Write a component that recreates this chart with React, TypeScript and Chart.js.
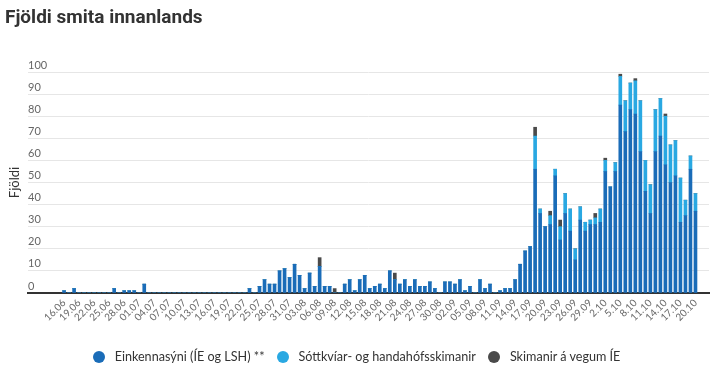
import React, { useEffect, useRef } from "react";
import { Chart, registerables } from "chart.js";

Chart.register(...registerables);

// Category labels: one per day, 16.06 – 20.10
const dates: string[] = [
  "16.06", "17.06", "18.06", "19.06", "20.06", "21.06", "22.06", "23.06", "24.06", "25.06", "26.06", "27.06", "28.06", "29.06", "30.06",
  "01.07", "02.07", "03.07", "04.07", "05.07", "06.07", "07.07", "08.07", "09.07", "10.07", "11.07", "12.07", "13.07", "14.07", "15.07", "16.07",
  "17.07", "18.07", "19.07", "20.07", "21.07", "22.07", "23.07", "24.07", "25.07", "26.07", "27.07", "28.07", "29.07", "30.07", "31.07",
  "01.08", "02.08", "03.08", "04.08", "05.08", "06.08", "07.08", "08.08", "09.08", "10.08", "11.08", "12.08", "13.08", "14.08", "15.08", "16.08",
  "17.08", "18.08", "19.08", "20.08", "21.08", "22.08", "23.08", "24.08", "25.08", "26.08", "27.08", "28.08", "29.08", "30.08", "31.08",
  "01.09", "02.09", "03.09", "04.09", "05.09", "06.09", "07.09", "08.09", "09.09", "10.09", "11.09", "12.09", "13.09", "14.09", "15.09",
  "16.09", "17.09", "18.09", "19.09", "20.09", "21.09", "22.09", "23.09", "24.09", "25.09", "26.09", "27.09", "28.09", "29.09", "30.09",
  "1.10", "2.10", "3.10", "4.10", "5.10", "6.10", "7.10", "8.10", "9.10", "10.10", "11.10", "12.10", "13.10", "14.10", "15.10", "16.10",
  "17.10", "18.10", "19.10", "20.10",
];

// Einkennasýni (ÍE og LSH) **
const einkennasyni: number[] = [
  1, 0, 2, 0, 0, 0, 0, 0, 0, 0, 2, 0, 1, 1, 1,
  0, 4, 0, 0, 0, 0, 0, 0, 0, 0, 0, 0, 0, 0, 0, 0, 0, 0, 0, 0, 0, 0, 2, 0, 3, 6, 4, 4, 10, 11, 7,
  13, 8, 2, 9, 3, 12, 3, 3, 0, 0, 4, 6, 1, 6, 8, 2, 3, 4, 2, 10, 6, 4, 6, 3, 6, 3, 3, 5, 2, 0, 5,
  5, 4, 6, 1, 3, 0, 6, 2, 4, 0, 1, 2, 2, 6, 13, 19, 21, 56, 36, 30, 31, 53, 24, 36, 28, 15, 33, 28, 31, 31,
  32, 55, 48, 55, 85, 73, 83, 81, 64, 46, 36, 64, 71, 58, 50, 53, 32, 35, 56, 37,
];

// Sóttkvíar- og handahófsskimanir
const sottkvi: number[] = [
  0, 0, 0, 0, 0, 0, 0, 0, 0, 0, 0, 0, 0, 0, 0,
  0, 0, 0, 0, 0, 0, 0, 0, 0, 0, 0, 0, 0, 0, 0, 0, 0, 0, 0, 0, 0, 0, 0, 0, 0, 0, 0, 0, 0, 0, 0,
  0, 0, 0, 0, 0, 0, 0, 0, 0, 0, 0, 0, 0, 0, 0, 0, 0, 0, 0, 0, 0, 0, 0, 0, 0, 0, 0, 0, 0, 0, 0,
  0, 0, 0, 0, 0, 0, 0, 0, 0, 0, 0, 0, 0, 0, 0, 0, 0, 15, 2, 0, 4, 3, 6, 9, 10, 5, 6, 4, 2, 3,
  6, 5, 0, 4, 13, 14, 12, 15, 23, 14, 13, 19, 17, 22, 17, 16, 20, 7, 6, 8,
];

// Skimanir á vegum ÍE
const skimanirIE: number[] = [
  0, 0, 0, 0, 0, 0, 0, 0, 0, 0, 0, 0, 0, 0, 0,
  0, 0, 0, 0, 0, 0, 0, 0, 0, 0, 0, 0, 0, 0, 0, 0, 0, 0, 0, 0, 0, 0, 0, 0, 0, 0, 0, 0, 0, 0, 0,
  0, 0, 0, 0, 0, 4, 0, 0, 2, 0, 0, 0, 0, 0, 0, 0, 0, 0, 0, 0, 3, 0, 0, 0, 0, 0, 0, 0, 0, 0, 0,
  0, 0, 0, 0, 0, 0, 0, 0, 0, 0, 0, 0, 0, 0, 0, 0, 0, 4, 0, 0, 2, 0, 3, 0, 0, 0, 0, 0, 0, 2,
  0, 1, 0, 0, 1, 0, 0, 1, 0, 0, 0, 0, 0, 1, 0, 0, 0, 0, 0, 0,
];

const seriesNames = ["Einkennasýni (ÍE og LSH) **", "Sóttkvíar- og handahófsskimanir", "Skimanir á vegum ÍE"];
const seriesColors = ["#1a6cb8", "#29a8e2", "#4a4a4a"];
const labelStep = 3;
const yMax = 100;
const yStep = 10;
const chartTitle = "Fjöldi smita innanlands";
const yTitle = "Fjöldi";

const FONT = "Lato, 'Open Sans', sans-serif";

export default function App() {
  const ref = useRef<HTMLCanvasElement | null>(null);

  useEffect(() => {
    document.body.style.margin = "0";
    if (!ref.current) return;
    const series = [einkennasyni, sottkvi, skimanirIE];
    const chart = new Chart(ref.current, {
      type: "bar",
      data: {
        datasets: series.map((arr, k) => ({
          label: seriesNames[k],
          data: arr.map((v, i) => ({ x: i, y: v })),
          backgroundColor: seriesColors[k],
          borderWidth: 0,
          barThickness: 3,
        })),
      },
      options: {
        animation: false,
        responsive: false,
        layout: { padding: { top: 72, bottom: 44, left: 0, right: 4 } },
        plugins: { legend: { display: false }, tooltip: { enabled: false } },
        scales: {
          x: {
            type: "linear",
            min: -7.2,
            max: 128.7,
            offset: false,
            stacked: true,
            grid: { display: false, drawTicks: false },
            border: { display: true, color: "#333333", width: 2 },
            afterBuildTicks: (s: any) => {
              s.ticks = dates
                .map((_, i) => i)
                .filter((i) => i % labelStep === 0)
                .map((v) => ({ value: v }));
            },
            afterFit: (s: any) => {
              s.height = 40;
            },
            ticks: {
              autoSkip: false,
              maxRotation: 45,
              minRotation: 45,
              padding: 4,
              color: "#666666",
              font: { family: FONT, size: 10 },
              callback: (v: any) => dates[v as number] ?? "",
            },
          },
          y: {
            stacked: true,
            min: 0,
            max: yMax,
            ticks: {
              stepSize: yStep,
              mirror: true,
              padding: 0,
              labelOffset: -7,
              color: "#666666",
              font: { family: FONT, size: 11 },
            },
            grid: { color: "#e6e6e6", drawTicks: false, lineWidth: 1 },
            border: { display: false },
            title: {
              display: true,
              text: yTitle,
              color: "#333333",
              font: { family: FONT, size: 13 },
              padding: { top: 7, bottom: 0 },
            },
            afterFit: (s: any) => {
              s.width = 28;
            },
          },
        },
      },
    } as any);
    return () => chart.destroy();
  }, []);

  return (
    <div style={{ position: "relative", width: 713, height: 377, background: "#fff", overflow: "hidden" }}>
      <canvas ref={ref} width={713} height={377} style={{ position: "absolute", left: 0, top: 0 }} />
      <div
        style={{
          position: "absolute",
          left: 5,
          top: 6,
          fontFamily: "'Liberation Sans Narrow', 'Roboto', sans-serif",
          fontWeight: 700,
          fontSize: 19,
          lineHeight: "22px",
          color: "#333333",
        }}
      >
        {chartTitle}
      </div>
      <div
        style={{
          position: "absolute",
          left: 0,
          top: 348,
          width: 713,
          display: "flex",
          justifyContent: "center",
          alignItems: "center",
          gap: 12,
          fontFamily: FONT,
          fontSize: 12.6,
          lineHeight: "18px",
          color: "#333333",
        }}
      >
        {seriesNames.map((n, k) => (
          <div key={n} style={{ display: "flex", alignItems: "center" }}>
            <span
              style={{
                display: "inline-block",
                width: 12,
                height: 12,
                borderRadius: "50%",
                background: seriesColors[k],
                marginRight: 10,
              }}
            />
            <span>{n}</span>
          </div>
        ))}
      </div>
    </div>
  );
}
